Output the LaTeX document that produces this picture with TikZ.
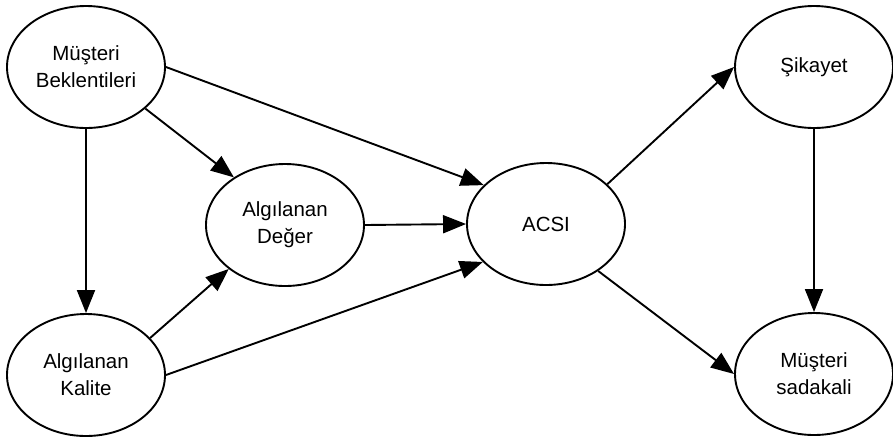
\documentclass[tikz,border=0pt]{standalone}
\usepackage{fontspec}
\setmainfont{Liberation Sans}
\usetikzlibrary{arrows.meta,shapes.geometric}

\begin{document}
\begin{tikzpicture}[x=1pt, y=-1pt,
  ell/.style={draw, ellipse, line width=1.9pt, inner sep=0pt, align=center,
              font=\fontsize{20.5}{27}\selectfont,
              minimum width=158pt, minimum height=122pt},
  arr/.style={-{Triangle[length=23pt, width=18pt]}, line width=1.9pt}]

  \useasboundingbox (0,0) rectangle (893,440);

  \node[ell] (bekl)  at (86,67)   {Müşteri\\Beklentileri};
  \node[ell] (kalite) at (86,375) {Algılanan\\Kalite};
  \node[ell] (deger) at (285,225) {Algılanan\\Değer};
  \node[ell] (acsi)  at (546,224) {ACSI};
  \node[ell] (sikayet) at (814,67) {Şikayet};
  \node[ell] (sadakat) at (814,374) {Müşteri\\sadakali};

  % left part
  \draw[arr] (bekl.south) -- (kalite.north);
  \draw[arr] (bekl.-35)   -- (deger.137);
  \draw[arr] (bekl.east)  -- (acsi.148);
  \draw[arr] (kalite.30)  -- (deger.218);
  \draw[arr] (kalite.east) -- (acsi.211);
  \draw[arr] (deger.east) -- (acsi.west);

  % right part
  \draw[arr] (acsi.33)  -- (sikayet.west);
  \draw[arr] (acsi.318) -- (sadakat.west);
  \draw[arr] (sikayet.south) -- (sadakat.north);
\end{tikzpicture}
\end{document}
